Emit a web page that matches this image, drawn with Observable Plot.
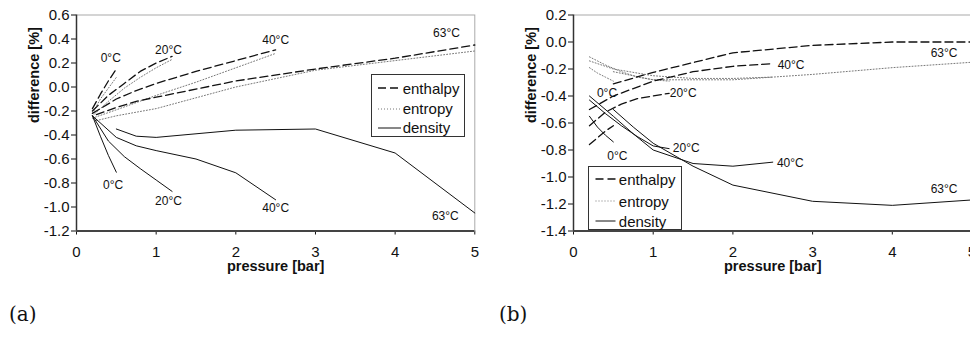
<!DOCTYPE html>
<html><head><meta charset="utf-8">
<script src="https://cdn.jsdelivr.net/npm/d3@7"></script>
<script src="https://cdn.jsdelivr.net/npm/@observablehq/plot@0.6"></script>
<style>
html,body{margin:0;padding:0;background:#fff;}
#wrap{position:relative;width:970px;height:340px;overflow:hidden;font-family:"Liberation Sans",Arial,sans-serif;}
.chart{position:absolute;top:0;}
.legend{position:absolute;border:1px solid #333;background:#fff;font-size:15px;color:#111;box-sizing:border-box;}
.legend .row{position:absolute;left:0;height:20px;display:flex;align-items:center;white-space:nowrap;}
.legend svg{display:block;}
.panel{position:absolute;font-family:"DejaVu Serif","Liberation Serif",serif;font-size:20px;color:#111;}
</style></head>
<body><div id="wrap"></div>
<script>
const temps = ["0°C", "20°C", "40°C", "63°C"];
const xTicks = [0, 1, 2, 3, 4, 5];
const yTicksA = [-1.2, -1.0, -0.8, -0.6, -0.4, -0.2, 0, 0.2, 0.4, 0.6];
const yTicksB = [-1.4, -1.2, -1.0, -0.8, -0.6, -0.4, -0.2, 0, 0.2];

// panel (a): [pressure, difference] per temperature
const aEnthalpy = [
  [[0.2,-0.18],[0.3,-0.06],[0.4,0.05],[0.5,0.15]],
  [[0.2,-0.2],[0.4,-0.07],[0.6,0.03],[0.8,0.13],[1.0,0.2],[1.2,0.255]],
  [[0.2,-0.22],[0.5,-0.1],[0.75,-0.03],[1,0.03],[1.5,0.13],[2,0.22],[2.5,0.31]],
  [[0.25,-0.23],[0.5,-0.17],[0.75,-0.12],[1,-0.085],[2,0.05],[3,0.15],[4,0.24],[5,0.35]]
];
const aEntropy = [
  [[0.2,-0.22],[0.3,-0.1],[0.4,-0.01],[0.5,0.08]],
  [[0.2,-0.24],[0.4,-0.12],[0.6,-0.01],[0.8,0.08],[1.0,0.16],[1.2,0.23]],
  [[0.2,-0.26],[0.5,-0.19],[1,-0.07],[1.5,0.04],[2,0.16],[2.5,0.28]],
  [[0.25,-0.28],[0.5,-0.24],[1,-0.18],[2,0.0],[3,0.14],[4,0.22],[5,0.30]]
];
const aDensity = [
  [[0.2,-0.24],[0.3,-0.41],[0.4,-0.57],[0.5,-0.71]],
  [[0.2,-0.24],[0.4,-0.45],[0.6,-0.58],[0.8,-0.68],[1.0,-0.775],[1.2,-0.87]],
  [[0.2,-0.24],[0.5,-0.42],[0.75,-0.49],[1,-0.53],[1.5,-0.60],[2,-0.715],[2.5,-0.94]],
  [[0.5,-0.35],[0.75,-0.41],[1,-0.42],[2,-0.36],[3,-0.35],[4,-0.55],[5,-1.05]]
];
const aEnthalpyLabels = [[0.43,0.24],[1.155,0.31],[2.5,0.39],[4.645,0.445]];
const aDensityLabels = [[0.46,-0.82],[1.155,-0.955],[2.5,-1.01],[4.63,-1.08]];

// panel (b)
const bEnthalpy = [
  [[0.2,-0.76],[0.3,-0.71],[0.4,-0.66],[0.5,-0.62]],
  [[0.2,-0.62],[0.4,-0.52],[0.6,-0.46],[0.8,-0.42],[1.0,-0.4],[1.2,-0.38]],
  [[0.2,-0.5],[0.5,-0.4],[1,-0.29],[1.5,-0.22],[2,-0.18],[2.5,-0.16]],
  [[0.5,-0.31],[1,-0.225],[2,-0.08],[3,-0.025],[4,0.0],[5,0.0]]
];
const bEntropy = [
  [[0.2,-0.19],[0.3,-0.23],[0.4,-0.26],[0.5,-0.29]],
  [[0.2,-0.11],[0.4,-0.17],[0.6,-0.22],[0.8,-0.26],[1.0,-0.28],[1.2,-0.29]],
  [[0.2,-0.14],[0.5,-0.2],[1,-0.25],[1.5,-0.27],[2,-0.27],[2.5,-0.26]],
  [[0.5,-0.22],[1,-0.28],[2,-0.28],[3,-0.24],[4,-0.19],[5,-0.15]]
];
const bDensity = [
  [[0.2,-0.55],[0.3,-0.63],[0.4,-0.69],[0.5,-0.74]],
  [[0.2,-0.43],[0.4,-0.53],[0.6,-0.62],[0.8,-0.7],[1.0,-0.77],[1.2,-0.79]],
  [[0.2,-0.40],[0.5,-0.55],[0.75,-0.68],[1,-0.8],[1.5,-0.9],[2,-0.92],[2.5,-0.89]],
  [[0.5,-0.5],[0.75,-0.63],[1,-0.75],[1.5,-0.92],[2,-1.06],[3,-1.18],[4,-1.21],[5,-1.17]]
];
const bEnthalpyLabels = [[0.42,-0.376],[1.376,-0.376],[2.73,-0.168],[4.65,-0.079]];
const bDensityLabels = [[0.55,-0.842],[1.414,-0.783],[2.72,-0.894],[4.65,-1.087]];

const legendItems = ["enthalpy", "entropy", "density"];
const styles = {
  enthalpy: {stroke: "#111", strokeWidth: 1.3, strokeDasharray: "8,4"},
  entropy: {stroke: "#777", strokeWidth: 1, strokeDasharray: "1,2"},
  density: {stroke: "#111", strokeWidth: 1}
};

function rowsOf(prop, arr) {
  const out = [];
  arr.forEach((pts, i) => pts.forEach(([p, v]) => out.push({prop, temp: temps[i], p, v})));
  return out;
}
function labelsOf(arr) { return arr.map(([p, v], i) => ({p, v, t: temps[i]})); }

function chart({enth, entr, dens, enthL, densL, yDomain, yTicks, width, marginLeft, marginRight}) {
  return Plot.plot({
    width, height: 280, marginLeft, marginRight, marginTop: 14.5, marginBottom: 49.5,
    style: {fontFamily: "'Liberation Sans', Arial, sans-serif", fontSize: "15px", color: "#111", background: "#fff", overflow: "visible"},
    x: {domain: [0, 5], ticks: xTicks, tickFormat: d => String(d), tickSize: 4, tickPadding: 11, label: null},
    y: {domain: yDomain, ticks: yTicks, tickFormat: d => d.toFixed(1), tickSize: 5, tickPadding: 2, label: null},
    marks: [
      Plot.frame({stroke: "#aaa"}),
      Plot.line(rowsOf("entropy", entr), {x: "p", y: "v", z: "temp", ...styles.entropy}),
      Plot.line(rowsOf("enthalpy", enth), {x: "p", y: "v", z: "temp", ...styles.enthalpy}),
      Plot.line(rowsOf("density", dens), {x: "p", y: "v", z: "temp", ...styles.density}),
      Plot.ruleX([0], {stroke: "#333", strokeWidth: 1.5}),
      Plot.ruleY([yDomain[0]], {stroke: "#444", strokeWidth: 2}),
      Plot.text(labelsOf(enthL), {x: "p", y: "v", text: "t", fontSize: 12, fill: "#111"}),
      Plot.text(labelsOf(densL), {x: "p", y: "v", text: "t", fontSize: 12, fill: "#111"}),
      Plot.text(["pressure [bar]"], {text: d => d, frameAnchor: "bottom", dy: 40, fontWeight: "bold", fontSize: 14.5}),
      Plot.text(["difference [%]"], {text: d => d, frameAnchor: "left", dx: -42, rotate: -90, fontWeight: "bold", fontSize: 14.5})
    ]
  });
}

function legend(left, top, w, h, rowYs, sx0, sx1, tx) {
  const div = document.createElement("div");
  div.className = "legend";
  Object.assign(div.style, {left: left + "px", top: top + "px", width: w + "px", height: h + "px"});
  legendItems.forEach((name, i) => {
    const row = document.createElement("div");
    row.className = "row";
    row.style.top = (rowYs[i] - 10) + "px";
    const s = styles[name];
    row.innerHTML = `<svg width="${tx}" height="20"><line x1="${sx0}" x2="${sx1}" y1="10" y2="10" stroke="${s.stroke}" stroke-width="${s.strokeWidth}" ${s.strokeDasharray ? `stroke-dasharray="${s.strokeDasharray}"` : ""}/></svg><span>${name}</span>`;
    div.appendChild(row);
  });
  return div;
}

const wrap = document.getElementById("wrap");
const A = chart({enth: aEnthalpy, entr: aEntropy, dens: aDensity, enthL: aEnthalpyLabels, densL: aDensityLabels,
  yDomain: [-1.2, 0.6], yTicks: yTicksA, width: 490, marginLeft: 76, marginRight: 15.7});
A.classList.add("chart"); A.style.left = "0px";
wrap.appendChild(A);
const B = chart({enth: bEnthalpy, entr: bEntropy, dens: bDensity, enthL: bEnthalpyLabels, densL: bDensityLabels,
  yDomain: [-1.4, 0.2], yTicks: yTicksB, width: 483, marginLeft: 76, marginRight: 8.5});
B.classList.add("chart"); B.style.left = "497.3px";
wrap.appendChild(B);

wrap.appendChild(legend(370.7, 74, 94, 63, [13.3, 33.7, 52.7], 6, 29, 31));
wrap.appendChild(legend(588.3, 166, 94, 64, [12.3, 34, 54], 6.5, 26.5, 29.5));

const pa = document.createElement("div"); pa.className = "panel"; pa.textContent = "(a)";
Object.assign(pa.style, {left: "9px", top: "302px"}); wrap.appendChild(pa);
const pb = document.createElement("div"); pb.className = "panel"; pb.textContent = "(b)";
Object.assign(pb.style, {left: "499px", top: "302px"}); wrap.appendChild(pb);
</script></body></html>
